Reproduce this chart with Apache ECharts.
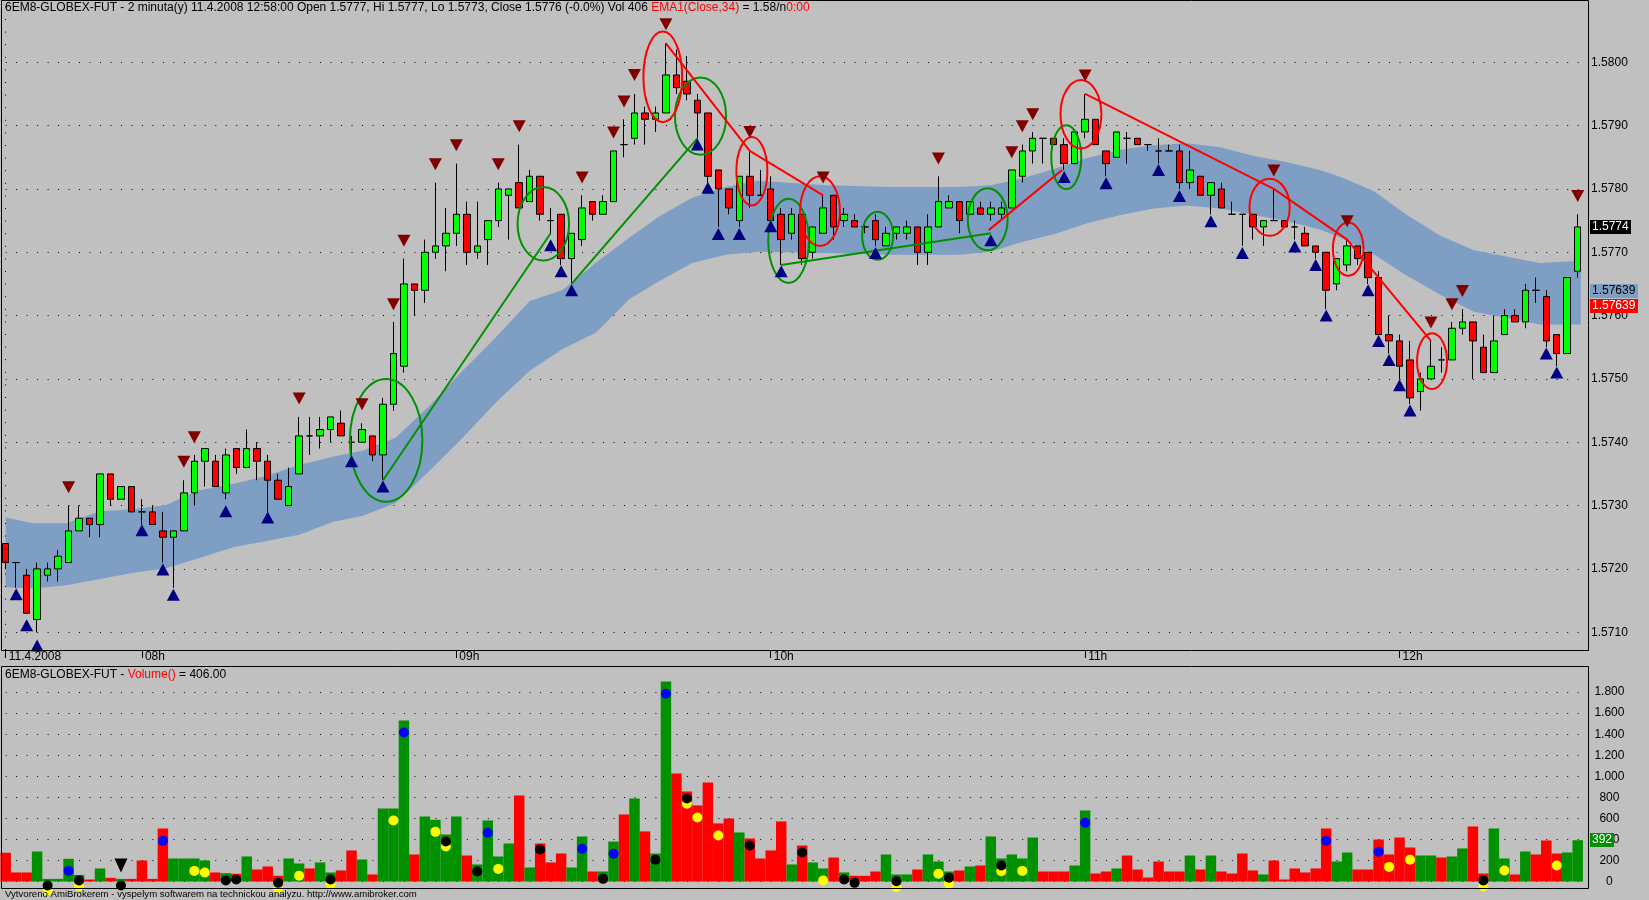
<!DOCTYPE html>
<html><head><meta charset="utf-8">
<script src="https://cdn.jsdelivr.net/npm/echarts@6/dist/echarts.min.js"></script>
<style>html,body{margin:0;padding:0;background:#c0c0c0;}#c{width:1649px;height:900px;}</style>
</head><body><div id="c"></div>
<script>
// ---------- DATA ----------
const opens = [1.5724,1.5721,1.5719,1.5712,1.5719,1.5720,1.5721,1.5726,1.5728,1.5727,
1.5735,1.5731,1.5733,1.5729,1.5729,1.5726,1.5725,1.5726,1.5732,1.5737,
1.5737,1.5732,1.5739,1.5736,1.5739,1.5737,1.5734,1.5730,1.5735,1.5741,
1.5741,1.5742,1.5743,1.5740,1.5740,1.5741,1.5738,1.5746,1.5752,1.5765,
1.5764,1.5770,1.5771,1.5773,1.5776,1.5770,1.5772,1.5775,1.5779,1.5781,
1.5778,1.5782,1.5775,1.5776,1.5769,1.5772,1.5778,1.5776,1.5778,1.5787,
1.5788,1.5792,1.5791,1.5792,1.5798,1.5797,1.5794,1.5792,1.5783,1.5780,
1.5775,1.5782,1.5779,1.5780,1.5776,1.5773,1.5776,1.5770,1.5773,1.5779,
1.5775,1.5775,1.5774,1.5775,1.5771,1.5773,1.5773,1.5774,1.5770,1.5774,
1.5777,1.5778,1.5776,1.5777,1.5776,1.5776,1.5777,1.5782,1.5786,1.5788,
1.5788,1.5787,1.5784,1.5789,1.5791,1.5786,1.5785,1.5788,1.5788,1.5787,
1.5786,1.5786,1.5786,1.5781,1.5782,1.5779,1.5780,1.5776,1.5776,1.5776,
1.5774,1.5775,1.5775,1.5774,1.5773,1.5771,1.5770,1.5765,1.5768,1.5771,
1.5770,1.5766,1.5757,1.5756,1.5753,1.5748,1.5750,1.5753,1.5753,1.5758,
1.5759,1.5755,1.5751,1.5757,1.5760,1.5759,1.5764,1.5763,1.5757,1.5754,1.5767];
const highs = [1.5724,1.5721,1.5720,1.5721,1.5721,1.5723,1.5730,1.5730,1.5728,1.5735,
1.5735,1.5733,1.5733,1.5731,1.5730,1.5729,1.5726,1.5734,1.5738,1.5739,
1.5738,1.5739,1.5739,1.5742,1.5740,1.5738,1.5735,1.5736,1.5744,1.5744,
1.5744,1.5744,1.5745,1.5741,1.5743,1.5741,1.5747,1.5759,1.5769,1.5765,
1.5772,1.5781,1.5777,1.5784,1.5778,1.5778,1.5775,1.5781,1.5780,1.5787,
1.5783,1.5782,1.5777,1.5776,1.5773,1.5779,1.5778,1.5779,1.5786,1.5791,
1.5795,1.5793,1.5793,1.5803,1.5802,1.5801,1.5795,1.5792,1.5783,1.5780,
1.5782,1.5786,1.5783,1.5782,1.5777,1.5777,1.5776,1.5774,1.5779,1.5779,
1.5777,1.5776,1.5775,1.5776,1.5774,1.5774,1.5775,1.5774,1.5776,1.5782,
1.5779,1.5778,1.5778,1.5778,1.5778,1.5778,1.5783,1.5787,1.5789,1.5788,
1.5788,1.5788,1.5789,1.5795,1.5791,1.5786,1.5789,1.5789,1.5788,1.5787,
1.5788,1.5787,1.5787,1.5786,1.5782,1.5781,1.5781,1.5778,1.5776,1.5776,
1.5775,1.5780,1.5775,1.5775,1.5774,1.5771,1.5770,1.5769,1.5772,1.5771,
1.5770,1.5767,1.5760,1.5757,1.5756,1.5751,1.5756,1.5755,1.5759,1.5761,
1.5759,1.5757,1.5760,1.5761,1.5761,1.5765,1.5766,1.5764,1.5757,1.5766,1.5776];
const lows = [1.5720,1.5717,1.5713,1.5710,1.5718,1.5718,1.5721,1.5726,1.5725,1.5725,
1.5730,1.5731,1.5729,1.5727,1.5727,1.5721,1.5717,1.5726,1.5730,1.5733,
1.5733,1.5731,1.5735,1.5736,1.5734,1.5729,1.5731,1.5730,1.5735,1.5738,
1.5739,1.5740,1.5741,1.5738,1.5740,1.5737,1.5734,1.5745,1.5751,1.5760,
1.5762,1.5769,1.5767,1.5771,1.5768,1.5769,1.5768,1.5774,1.5772,1.5777,
1.5778,1.5775,1.5773,1.5768,1.5765,1.5771,1.5775,1.5776,1.5778,1.5785,
1.5787,1.5787,1.5789,1.5792,1.5795,1.5794,1.5788,1.5781,1.5774,1.5776,
1.5774,1.5777,1.5779,1.5774,1.5768,1.5772,1.5768,1.5769,1.5773,1.5772,
1.5774,1.5774,1.5773,1.5771,1.5771,1.5772,1.5772,1.5768,1.5768,1.5774,
1.5777,1.5773,1.5776,1.5776,1.5775,1.5775,1.5777,1.5781,1.5784,1.5784,
1.5787,1.5783,1.5784,1.5788,1.5787,1.5782,1.5785,1.5784,1.5787,1.5786,
1.5784,1.5786,1.5780,1.5780,1.5779,1.5776,1.5777,1.5776,1.5771,1.5772,
1.5771,1.5775,1.5774,1.5772,1.5771,1.5769,1.5761,1.5764,1.5767,1.5768,
1.5765,1.5757,1.5754,1.5750,1.5746,1.5745,1.5750,1.5751,1.5753,1.5757,
1.5750,1.5751,1.5751,1.5757,1.5759,1.5758,1.5762,1.5755,1.5752,1.5754,1.5766];
const closes = [1.5721,1.5721,1.5713,1.5720,1.5720,1.5722,1.5726,1.5728,1.5727,1.5735,
1.5731,1.5733,1.5729,1.5729,1.5727,1.5725,1.5726,1.5732,1.5737,1.5739,
1.5733,1.5738,1.5736,1.5739,1.5737,1.5734,1.5731,1.5733,1.5741,1.5741,
1.5742,1.5744,1.5741,1.5740,1.5742,1.5738,1.5746,1.5754,1.5765,1.5764,
1.5770,1.5771,1.5773,1.5776,1.5770,1.5771,1.5775,1.5780,1.5780,1.5777,
1.5782,1.5776,1.5775,1.5769,1.5773,1.5777,1.5776,1.5778,1.5786,1.5787,
1.5792,1.5791,1.5792,1.5798,1.5796,1.5795,1.5792,1.5782,1.5780,1.5777,
1.5782,1.5779,1.5779,1.5775,1.5772,1.5776,1.5769,1.5774,1.5777,1.5774,
1.5776,1.5774,1.5774,1.5772,1.5773,1.5774,1.5774,1.5770,1.5774,1.5778,
1.5778,1.5775,1.5778,1.5776,1.5777,1.5777,1.5783,1.5786,1.5788,1.5788,
1.5787,1.5784,1.5789,1.5791,1.5787,1.5784,1.5789,1.5788,1.5787,1.5787,
1.5786,1.5786,1.5781,1.5783,1.5779,1.5781,1.5777,1.5776,1.5776,1.5774,
1.5775,1.5775,1.5774,1.5774,1.5771,1.5770,1.5764,1.5769,1.5771,1.5769,
1.5766,1.5757,1.5756,1.5752,1.5747,1.5750,1.5752,1.5753,1.5758,1.5759,
1.5756,1.5751,1.5756,1.5760,1.5759,1.5764,1.5764,1.5756,1.5754,1.5766,1.5774];
const volumes = [273,86,86,285,25,25,216,63,19,124,
35,25,25,200,25,504,219,219,219,200,
86,79,73,238,114,143,54,219,171,124,
181,86,105,295,209,67,694,694,1531,257,
618,586,447,618,247,162,580,238,361,818,
133,361,181,266,133,428,95,95,380,637,
789,476,266,1902,1027,856,723,941,552,599,
466,409,219,295,571,162,342,181,124,228,
86,54,54,95,257,67,67,114,257,190,
95,105,143,152,428,219,257,219,418,95,
95,95,152,675,76,95,124,247,114,38,
190,95,95,247,114,247,95,76,266,105,
67,200,19,124,86,124,504,190,276,114,
114,399,257,418,323,247,247,228,238,314,
523,76,504,219,67,285,257,390,266,276,392];

// EMA band edges (bar position, upper, lower)
const bandX = [0,2.6,5.8,9,12.2,15.3,18.5,21.7,24.9,28,31.2,34.1,37.2,40.4,43.6,46.8,50,53.1,56.3,59.5,
62.3,65.5,68.7,71.8,78.2,84.5,90.9,94,96.9,100.1,103.2,106.4,109.6,112.7,115.9,119.1,122.3,125.4,127.4,130.6,
133.7,136.9,140.1,143.3,146.4,149.6,150.3];
const bandUpper = [1.57281,1.57272,1.57272,1.57291,1.57294,1.57301,1.57324,1.57334,1.57347,1.57364,
1.57377,1.57387,1.57407,1.57457,1.57513,1.57566,1.57623,1.57640,1.57683,1.57723,
1.57756,1.57786,1.57803,1.57813,1.57806,1.57803,1.57803,1.57806,1.57816,1.57832,
1.57849,1.57862,1.57869,1.57872,1.57866,1.57852,1.57842,1.57830,1.57819,1.57796,
1.57759,1.57726,1.57703,1.57693,1.57683,1.57686,1.57686];
const bandLower = [1.57171,1.57169,1.57174,1.57184,1.57194,1.57201,1.57217,1.57234,1.57244,1.57254,
1.57274,1.57284,1.57304,1.57354,1.57407,1.57463,1.57513,1.57547,1.57573,1.57626,
1.57654,1.57683,1.57696,1.57701,1.57699,1.57696,1.57696,1.57701,1.57716,1.57729,
1.57746,1.57759,1.57769,1.57774,1.57769,1.57759,1.57749,1.57736,1.57723,1.57696,
1.57663,1.57633,1.57606,1.57596,1.57586,1.57586,1.57586];

// signal triangles [bar, price]
const buyMarks = [[1,1.57160],[2,1.57111],[3,1.57079],[13,1.57261],[15,1.57199],[16,1.57159],[21,1.57291],[25,1.57281],
[33,1.57370],[36,1.57330],[52,1.57711],[53,1.57670],[54,1.57640],[66,1.57870],[67,1.57802],[68,1.57729],[70,1.57729],
[73,1.57741],[74,1.57670],[83,1.57699],[94,1.57719],[101,1.57819],[105,1.57809],[110,1.57830],[112,1.57789],[115,1.57749],
[118,1.57699],[123,1.57709],[125,1.57680],[126,1.57600],[130,1.57640],[131,1.57560],[132,1.57530],[133,1.57490],[134,1.57450],
[147,1.57540],[148,1.57510]];
const sellMarks = [[6,1.57329],[17,1.57369],[18,1.57408],[28,1.57469],[34,1.57460],[37,1.57618],[38,1.57718],[41,1.57839],
[43,1.57869],[47,1.57839],[49,1.57899],[55,1.57818],[58,1.57889],[59,1.57938],[60,1.57980],[63,1.58060],[71,1.57890],
[78,1.57818],[89,1.57848],[96,1.57858],[97,1.57899],[98,1.57918],[103,1.57979],[121,1.57829],[128,1.57749],[136,1.57589],
[138,1.57618],[139,1.57639],[150,1.57789]];

// ellipses [bar, price, radius in bars, radius in price]
const greenEllipses = [[36.3,1.57403,3.46,0.00097],[51.3,1.57745,2.46,0.00058],[66.3,1.57915,2.44,0.00061],[74.7,1.57718,1.94,0.000665],
[83.2,1.57726,1.48,0.00038],[93.7,1.57752,1.9,0.00049],[101.2,1.57850,1.43,0.000505]];
const redEllipses = [[62.7,1.57977,1.85,0.000715],[71.2,1.57828,1.48,0.00054],[77.7,1.57765,1.9,0.00055],[102.6,1.57918,1.95,0.00054],
[120.6,1.57771,1.92,0.00045],[128.1,1.57705,1.46,0.00042],[136.1,1.57528,1.43,0.00044]];

// trend lines
const greenLines = [[[36,1.5734],[52,1.5773]],[[54,1.5765],[66,1.5788]],[[74,1.5768],[94,1.5773]]];
const redLines = [[[63,1.5803],[71,1.5786],[78,1.5779]],[[93.8,1.57735],[100.8,1.5783]],[[103,1.5795],[121,1.5780],[128,1.5772],[136,1.5756]]];

// volume panel markers [bar, value]
const blueDots = [[6,101],[15,387],[38,1417],[46,463],[55,311],[58,263],[63,1785],[103,558],[126,387],[131,282]];
const yellowDots = [[4,-86],[7,-48],[18,101],[19,86],[26,-67],[28,54],[31,-29],[37,580],[41,472],[42,333],[47,120],[65,739],
[66,609],[68,437],[78,10],[85,-54],[89,73],[90,-22],[95,98],[97,101],[132,139],[134,206],[141,-48],[143,105],[148,152]];
const blackDots = [[4,-38],[7,10],[11,-38],[21,10],[22,19],[26,-13],[31,19],[42,380],[45,95],[51,304],[57,25],[62,206],
[65,789],[71,342],[76,276],[80,19],[81,-13],[85,3],[90,35],[95,152],[141,10]];
const volTriangles = [[11,152]];

// time axis labels
const timeTickIdx = [0,13,43,73,103,133];
const timeTickText = ['11.4.2008','08h','09h','10h','11h','12h'];

const emaValue = 1.57639;
const titleText = '6EM8-GLOBEX-FUT - 2 minuta(y) 11.4.2008 12:58:00 Open 1.5777, Hi 1.5777, Lo 1.5773, Close 1.5776 (-0.0%) Vol 406 ';
const volTitleValue = '406.00';

// ---------- CHART ----------
const FONT = '"Liberation Sans", Arial, sans-serif';
const GREEN_VOL = '#009000';
const cats = opens.map((_, i) => String(i));
const candleData = opens.map((o, i) => [o, closes[i], lows[i], highs[i]]);
const volData = volumes.map((v, i) => ({value: v, itemStyle: {color: closes[i] > opens[i] ? GREEN_VOL : '#ff0000'}}));

const GL = 0.45, GW = 1582.5;
const dotted = {color: '#000', width: 1, type: [1, 9.48], dashOffset: 5.24};
const thousand = v => String(v).replace(/\B(?=(\d{3})+(?!\d))/g, '.');

const chart = echarts.init(document.getElementById('c'), null, {renderer: 'canvas', width: 1649, height: 900});

function ellipseSeries(data, color) {
  return {
    type: 'custom', xAxisIndex: 1, yAxisIndex: 0, z: 5, silent: true, clip: false,
    data: data,
    renderItem: (p, api) => {
      const c = api.coord([api.value(0), api.value(1)]);
      const e = api.coord([api.value(0) + api.value(2), api.value(1) + api.value(3)]);
      return {type: 'ellipse', shape: {cx: c[0], cy: c[1], rx: Math.abs(e[0] - c[0]), ry: Math.abs(e[1] - c[1])},
        style: {fill: 'none', stroke: color, lineWidth: 2}};
    }
  };
}
function lineSeries(lines, color) {
  return lines.map(pts => ({
    type: 'line', xAxisIndex: 1, yAxisIndex: 0, data: pts, symbol: 'none', z: 6, silent: true,
    lineStyle: {color: color, width: 2}, animation: false
  }));
}

const option = {
  backgroundColor: '#c0c0c0',
  animation: false,
  grid: [
    {left: GL, top: 1, width: GW, height: 649},
    {left: GL, top: 672, width: GW, height: 216.3}
  ],
  xAxis: [
    {type: 'category', gridIndex: 0, data: cats, boundaryGap: true,
      axisLine: {show: false},
      axisTick: {show: true, alignWithLabel: true, length: 8, inside: false,
        interval: (i) => timeTickIdx.includes(i), lineStyle: {color: '#000', width: 1}},
      axisLabel: {show: true, interval: (i) => timeTickIdx.includes(i),
        formatter: (v, i) => { const k = timeTickIdx.indexOf(Number(v)); return k >= 0 ? timeTickText[k] : ''; },
        align: 'left', verticalAlign: 'top', margin: 1, padding: [0, 0, 0, 3], color: '#000', fontSize: 12, fontFamily: FONT},
      splitLine: {show: false}},
    {type: 'value', gridIndex: 0, min: -0.5, max: 150.5, show: false},
    {type: 'category', gridIndex: 1, data: cats, boundaryGap: true, show: false},
    {type: 'value', gridIndex: 1, min: -0.5, max: 150.5, show: false}
  ],
  yAxis: [
    {type: 'value', gridIndex: 0, position: 'right', offset: 5.5, min: 1.570719, max: 1.580968, splitNumber: 10,
      axisLine: {show: false}, axisTick: {show: false},
      axisLabel: {showMinLabel: false, showMaxLabel: false, formatter: v => v.toFixed(4), align: 'center', margin: 21,
        color: '#000', fontSize: 12, fontFamily: FONT},
      splitLine: {show: true, showMinLine: false, showMaxLine: false, lineStyle: dotted}},
    {type: 'value', gridIndex: 1, position: 'right', offset: 5.5, min: -64.6, max: 1991.4, splitNumber: 10,
      axisLine: {show: false}, axisTick: {show: false},
      axisLabel: {showMinLabel: false, showMaxLabel: false, formatter: v => thousand(Math.round(v)), align: 'center', margin: 21,
        color: '#000', fontSize: 12, fontFamily: FONT},
      splitLine: {show: true, showMinLine: false, showMaxLine: false, lineStyle: dotted}}
  ],
  series: [
    {type: 'custom', xAxisIndex: 1, yAxisIndex: 0, z: 1, silent: true, data: [[0]],
      renderItem: (p, api) => {
        const pts = [];
        for (let i = 0; i < bandX.length; i++) pts.push(api.coord([bandX[i], bandUpper[i]]));
        for (let i = bandX.length - 1; i >= 0; i--) pts.push(api.coord([bandX[i], bandLower[i]]));
        return {type: 'polygon', shape: {points: pts}, style: {fill: '#7f9ec4'}};
      }},
    {type: 'candlestick', xAxisIndex: 0, yAxisIndex: 0, data: candleData, barWidth: 7, z: 3,
      itemStyle: {color: '#00ff00', color0: '#ff0000', borderColor: '#000', borderColor0: '#000', borderWidth: 1},
      markLine: {symbol: 'none', silent: true, label: {show: false}, animation: false,
        lineStyle: {color: '#000', width: 1, type: [1, 11.6]}, data: [{xAxis: 0}]}},
    ...lineSeries(greenLines, '#009000'),
    ...lineSeries(redLines, '#ff0000'),
    ellipseSeries(greenEllipses, '#009000'),
    ellipseSeries(redEllipses, '#ff0000'),
    {type: 'scatter', xAxisIndex: 1, yAxisIndex: 0, data: buyMarks, symbol: 'triangle', symbolSize: [13, 12], z: 7, silent: true,
      itemStyle: {color: '#000080', opacity: 1}},
    {type: 'scatter', xAxisIndex: 1, yAxisIndex: 0, data: sellMarks, symbol: 'triangle', symbolRotate: 180, symbolSize: [13, 12], z: 7, silent: true,
      itemStyle: {color: '#800000', opacity: 1}},
    {type: 'bar', xAxisIndex: 2, yAxisIndex: 1, data: volData, barWidth: '100%', barCategoryGap: '0%', z: 2, silent: true},
    {type: 'scatter', xAxisIndex: 3, yAxisIndex: 1, data: yellowDots, symbol: 'circle', symbolSize: 10, clip: false, z: 4, silent: true,
      itemStyle: {color: '#ffff00', opacity: 1}},
    {type: 'scatter', xAxisIndex: 3, yAxisIndex: 1, data: blackDots, symbol: 'circle', symbolSize: 10, clip: false, z: 5, silent: true,
      itemStyle: {color: '#000000', opacity: 1}},
    {type: 'scatter', xAxisIndex: 3, yAxisIndex: 1, data: blueDots, symbol: 'circle', symbolSize: 10, clip: false, z: 5, silent: true,
      itemStyle: {color: '#0000ff', opacity: 1}},
    {type: 'scatter', xAxisIndex: 3, yAxisIndex: 1, data: volTriangles, symbol: 'triangle', symbolRotate: 180, symbolSize: [13, 14], clip: false, z: 5, silent: true,
      itemStyle: {color: '#000000', opacity: 1}}
  ]
};
chart.setOption(option);

// value boxes on the right axis, placed through the axes' scales
const yP = v => chart.convertToPixel({yAxisIndex: 0}, v);
const yV = v => chart.convertToPixel({yAxisIndex: 1}, v);
const lastClose = closes[closes.length - 1];
const lastVol = volumes[volumes.length - 1];
function box(x, yc, w, fill, txt, tc) {
  return [
    {type: 'rect', z: 100, shape: {x: x, y: Math.round(yc - 7), width: w, height: 14}, style: {fill: fill}},
    {type: 'text', z: 101, x: x + 2, y: Math.round(yc), style: {text: txt, fill: tc, font: '12px ' + FONT, verticalAlign: 'middle', align: 'left'}}
  ];
}
const ye = yP(emaValue);
const graphics = [
  {type: 'rect', z: 90, shape: {x: 1.5, y: 0.5, width: 1587, height: 650}, style: {fill: 'none', stroke: '#000', lineWidth: 1}},
  {type: 'rect', z: 90, shape: {x: 1.5, y: 666.5, width: 1587, height: 222}, style: {fill: 'none', stroke: '#000', lineWidth: 1}},
  {type: 'text', z: 100, x: 5, y: 8, style: {
    text: '{k|' + titleText + '}{r|EMA1(Close,34)}{k| = 1.58/n}{r|0:00}', verticalAlign: 'middle',
    rich: {k: {fill: '#000', font: '12px ' + FONT}, r: {fill: '#ff0000', font: '12px ' + FONT}}}},
  {type: 'text', z: 100, x: 5, y: 675, style: {
    text: '{k|6EM8-GLOBEX-FUT - }{r|Volume()}{k| = ' + volTitleValue + '}', verticalAlign: 'middle',
    rich: {k: {fill: '#000', font: '12px ' + FONT}, r: {fill: '#ff0000', font: '12px ' + FONT}}}},
  {type: 'text', z: 80, x: 5, y: 894, style: {text: 'Vytvoreno AmiBrokerem - vyspelym softwarem na technickou analyzu. http://www.amibroker.com',
    fill: '#000', font: '9.6px ' + FONT, verticalAlign: 'middle'}},
  ...box(1590, yP(lastClose), 41, '#000000', lastClose.toFixed(4), '#ffffff'),
  ...box(1590, ye, 48, '#7f9ec4', emaValue.toFixed(5), '#000000'),
  ...box(1590, ye + 14.7, 48, '#ff0000', emaValue.toFixed(5), '#ffffff'),
  ...box(1590, yV(lastVol), 24, GREEN_VOL, String(lastVol), '#ffffff')
];
chart.setOption({graphic: graphics});
</script>
</body></html>
